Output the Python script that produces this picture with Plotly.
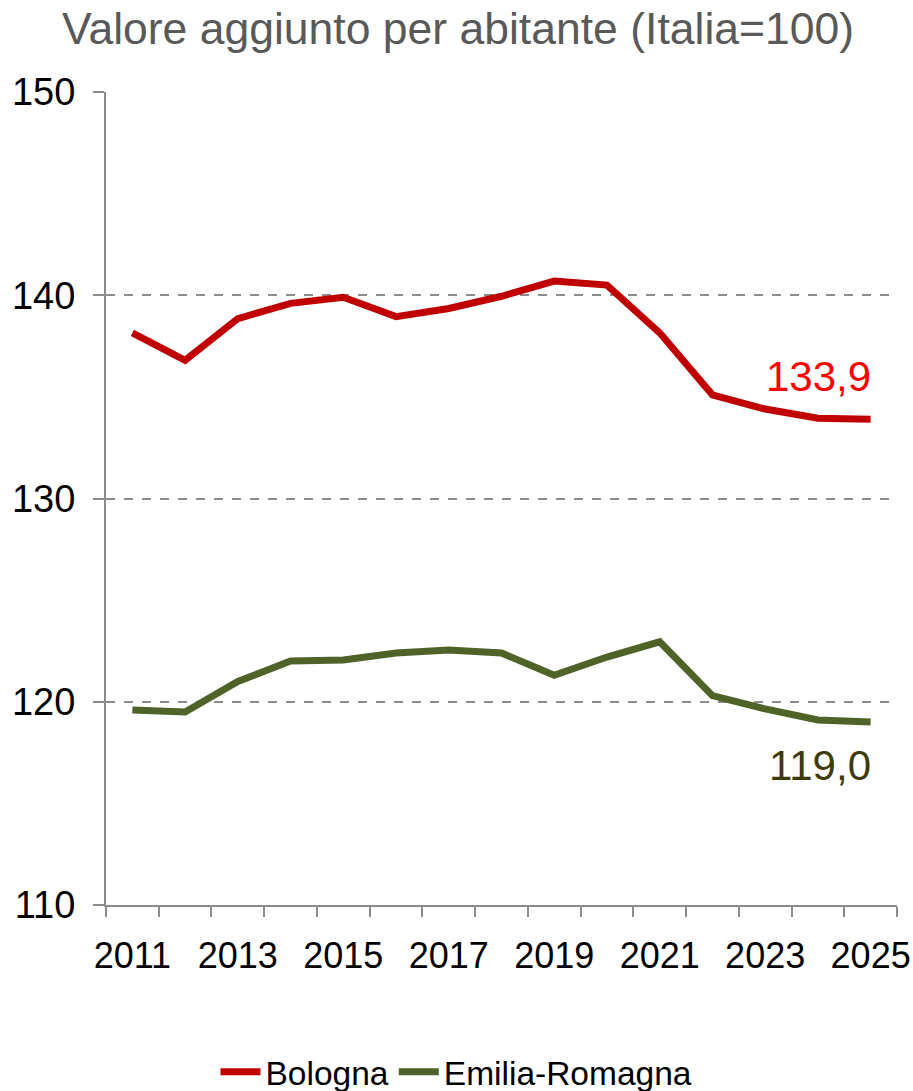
import plotly.graph_objects as go

years = list(range(2011, 2026))
bologna = [138.15, 136.8, 138.85, 139.6, 139.9, 138.95, 139.35, 139.95, 140.7, 140.5,
           138.15, 135.1, 134.4, 133.95, 133.9]
emilia_romagna = [119.6, 119.5, 121.0, 122.0, 122.05, 122.4, 122.55, 122.4, 121.3, 122.2,
                  122.95, 120.3, 119.65, 119.1, 119.0]
x_labels = [y for y in years if (y - years[0]) % 2 == 0]
y_ticks = [110, 120, 130, 140, 150]

FONT = "Liberation Sans, Arial, sans-serif"
RED = "#C00000"
OLIVE = "#4F6228"
AXIS = "#8C8C8C"

fig = go.Figure()
fig.add_trace(go.Scatter(
    x=years, y=bologna, mode="lines", name="Bologna",
    line=dict(color=RED, width=7),
))
fig.add_trace(go.Scatter(
    x=years, y=emilia_romagna, mode="lines", name="Emilia-Romagna",
    line=dict(color=OLIVE, width=7),
))

# value labels on the last point of each series
fig.add_annotation(x=years[-1], y=bologna[-1], text=f"{bologna[-1]:.1f}".replace(".", ","),
                   showarrow=False, xanchor="right", yanchor="middle", yshift=43, xshift=2,
                   font=dict(family=FONT, size=42, color="#FF0000"))
fig.add_annotation(x=years[-1], y=emilia_romagna[-1],
                   text=f"{emilia_romagna[-1]:.1f}".replace(".", ","),
                   showarrow=False, xanchor="right", yanchor="middle", yshift=-43, xshift=2,
                   font=dict(family=FONT, size=42, color="#3D3A0C"))

# tick marks sit on the boundaries between years
boundaries = [y - 0.5 for y in years] + [years[-1] + 0.5]

fig.update_layout(
    width=913, height=1091,
    margin=dict(l=106, r=16, t=92, b=186),
    paper_bgcolor="white", plot_bgcolor="white",
    font=dict(family=FONT, color="black"),
    title=dict(text="Valore aggiunto per abitante (Italia=100)",
               x=62 / 913, xref="container", xanchor="left",
               y=1 - 28 / 1091, yref="container", yanchor="middle",
               font=dict(family=FONT, size=44.5, color="#595959")),
    showlegend=True,
    legend=dict(orientation="h", x=0.5, xanchor="center", xref="container",
                y=1 - 1072 / 1091, yref="container", yanchor="middle",
                font=dict(family=FONT, size=33.5, color="black"),
                itemwidth=40, traceorder="normal"),
    xaxis=dict(
        range=[boundaries[0], boundaries[-1]], automargin=False,
        tickmode="array", tickvals=x_labels, ticktext=[str(y) for y in x_labels],
        ticks="", showline=True, linecolor=AXIS, linewidth=2,
        showgrid=False, zeroline=False,
        minor=dict(tickmode="array", tickvals=boundaries, ticks="outside",
                   ticklen=10, tickcolor=AXIS, tickwidth=1.5, showgrid=False),
        tickfont=dict(family=FONT, size=36, color="black"),
        ticklabelstandoff=18,
    ),
    yaxis=dict(
        range=[110, 150], tickvals=y_ticks, automargin=False,
        ticks="outside", ticklen=11, tickcolor=AXIS, tickwidth=1.5,
        showline=True, linecolor=AXIS, linewidth=2,
        showgrid=True, gridcolor=AXIS, griddash="dash", gridwidth=1.5,
        zeroline=False,
        tickfont=dict(family=FONT, size=38, color="black"),
        ticklabelstandoff=10,
    ),
)

fig.write_html("out.html")
